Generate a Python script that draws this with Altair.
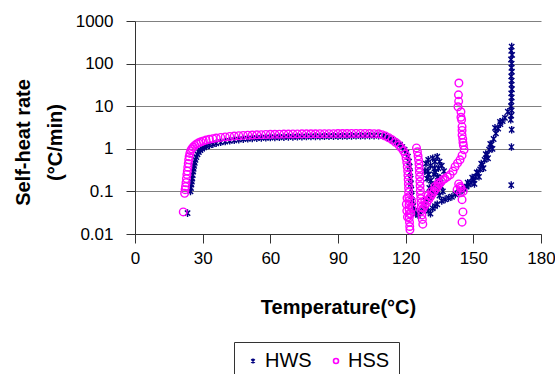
import altair as alt
import pandas as pd

# ---- data ----
hws_t = [23.3, 24.6, 24.8, 25.0, 25.2, 25.4, 25.6, 25.8, 26.0, 26.2, 26.5, 26.8, 27.2, 27.7, 28.3,
         29.0, 29.8, 30.7, 31.7, 33.0, 34.5, 36.0, 38.0, 40.0, 42.0, 44.0, 46.0, 48.0, 50.0, 52, 54,
         56, 58, 60, 62, 64, 66, 68, 70, 72, 74, 76, 78, 80, 82, 84, 86, 88, 90, 92, 94, 96, 98,
         100, 102, 104, 106, 108, 110, 111.5, 113, 114.5, 116, 117.5, 118.5, 119.5, 120.3, 121,
         121.5, 121.8, 122, 122.2, 122.3, 122.5, 122.7, 123, 123.3, 123.8, 124.5, 125.5, 126.5,
         127.5, 128.5,
         128.5, 129, 129.5, 130, 130.5, 131, 131.5, 132, 132.5, 133, 133.5, 134, 134.5, 135, 135.5,
         136, 136.5, 137, 129, 130, 131, 132, 133, 134, 130.5, 132, 134, 135,
         129.8, 131.2, 132.8, 134.2, 135.8, 133.2, 131.8, 130.2,
         136, 137.5, 139, 140.5, 142, 143.5, 145, 146, 147, 148, 149, 150, 151, 152, 153, 154, 155,
         156, 157, 158, 159, 160, 161, 162, 163, 164, 165.3, 159.6, 161.8, 167,
         147.5, 149.5, 151.5, 153.5, 155.5, 157.5, 150.5, 152.5, 154.5, 156.5, 158.5,
         167.0, 166.8, 167.2, 166.7, 167.0, 166.9, 167.1, 166.8, 167.0, 166.9, 167.1, 166.8, 167.0,
         166.9, 166.7, 167.0, 166.8, 166.6, 166.9, 166.8]
hws_r = [0.031, 0.10, 0.12, 0.145, 0.17, 0.20, 0.24, 0.29, 0.34, 0.40, 0.47, 0.55, 0.64, 0.74, 0.84,
         0.93, 1.01, 1.08, 1.15, 1.22, 1.29, 1.35, 1.42, 1.48, 1.54, 1.59, 1.64, 1.68, 1.72, 1.75, 1.78,
         1.80, 1.82, 1.84, 1.86, 1.87, 1.88, 1.90, 1.91, 1.92, 1.93, 1.94, 1.95, 1.96, 1.96, 1.97, 1.98,
         1.98, 1.99, 2.0, 2.0, 2.01, 2.02, 2.02, 2.03, 2.03, 2.04, 2.04, 2.02, 1.9, 1.75, 1.6, 1.42,
         1.25, 1.1, 0.95, 0.8, 0.65, 0.5, 0.38, 0.28, 0.2, 0.15, 0.11, 0.08, 0.06, 0.045, 0.035, 0.03,
         0.028, 0.032, 0.038, 0.045,
         0.3, 0.45, 0.2, 0.55, 0.12, 0.4, 0.08, 0.6, 0.25, 0.5, 0.15, 0.65, 0.35, 0.5, 0.2,
         0.4, 0.1, 0.3, 0.06, 0.035, 0.03, 0.04, 0.045, 0.05, 0.07, 0.09, 0.1, 0.08,
         0.3, 0.18, 0.35, 0.22, 0.13, 0.28, 0.14, 0.25,
         0.06, 0.065, 0.07, 0.075, 0.085, 0.095, 0.105, 0.115, 0.13, 0.145, 0.16, 0.19, 0.22, 0.27,
         0.33, 0.42, 0.55, 0.72, 0.95, 1.25, 1.7, 2.3, 3.0, 3.8, 4.5, 5.3, 7.4, 3.1, 4.3, 2.8,
         0.16, 0.21, 0.28, 0.45, 0.75, 1.3, 0.15, 0.22, 0.35, 0.6, 1.0,
         250, 200, 160, 125, 100, 80, 65, 50, 40, 32, 25, 20, 16, 13, 10, 8, 6, 4.8, 1.1, 0.14]

hss_t = [21.4, 22.0, 22.2, 22.4, 22.6, 22.8, 23.0, 23.2, 23.4, 23.6, 23.8, 24.0, 24.3, 24.7, 25.2,
         25.8, 26.5, 27.3, 28.2, 29.2, 30.3, 31.5, 33, 34.5, 36, 38, 40, 42, 44, 46, 48, 50, 52, 54,
         56, 58, 60, 62, 64, 66, 68, 70, 72, 74, 76, 78, 80, 82, 84, 86, 88, 90, 92, 94, 96, 98, 100,
         102, 104, 106, 108, 109.5, 111, 112.5, 114, 115.5, 117, 118, 119,
         119.8, 120.2, 120.5, 120.7, 120.9, 121.0, 121.1, 121.2, 121.3, 121.3, 121.4, 121.4, 121.5,
         121.5, 121.6, 121.6, 121.7, 121.8, 121.9, 120.3, 120.5, 120.8, 120.6, 122.6, 122.8, 122.3,
         124.8, 125.2, 125.5, 125.7, 125.9, 126.0, 126.1, 126.2, 126.3, 126.4, 126.5, 126.6, 126.7,
         126.8, 126.9, 127.0, 127.2, 127.4, 127.6,
         127.8, 128.6, 129.4, 130.2, 131.0, 131.8, 132.6, 133.4, 134.2, 135.0, 135.8, 136.6, 137.4,
         128.5, 130, 131.5, 133, 134.5,
         138.5, 139.7, 141, 141.9, 143, 144.1, 145, 145.9, 145.4, 145.6, 145.3, 145, 145, 145, 144.8,
         144.5, 144.5, 143.2, 143.5, 143.4, 143.6,
         142.8, 143.5, 144.1, 144.3, 145, 145.4, 145, 144.5, 145.5]
hss_r = [0.033, 0.09, 0.11, 0.13, 0.16, 0.20, 0.25, 0.30, 0.37, 0.45, 0.55, 0.65, 0.78, 0.90, 1.0,
         1.1, 1.2, 1.3, 1.38, 1.46, 1.53, 1.6, 1.67, 1.73, 1.79, 1.85, 1.9, 1.95, 1.99, 2.03, 2.06,
         2.09, 2.11, 2.13, 2.15, 2.17, 2.18, 2.19, 2.2, 2.21, 2.22, 2.23, 2.23, 2.24, 2.24, 2.25, 2.25,
         2.26, 2.26, 2.27, 2.27, 2.28, 2.28, 2.28, 2.29, 2.29, 2.29, 2.29, 2.28, 2.27, 2.24, 2.15, 2.0,
         1.82, 1.62, 1.42, 1.22, 1.05, 0.9,
         0.75, 0.6, 0.48, 0.38, 0.3, 0.24, 0.19, 0.15, 0.12, 0.095, 0.075, 0.06, 0.048, 0.038, 0.03,
         0.024, 0.019, 0.015, 0.0125, 0.05, 0.035, 0.025, 0.07, 0.06, 0.04, 0.03,
         1.05, 0.85, 0.68, 0.55, 0.44, 0.35, 0.28, 0.22, 0.17, 0.135, 0.105, 0.085, 0.068, 0.054,
         0.043, 0.035, 0.028, 0.022, 0.017,
         0.04, 0.047, 0.055, 0.064, 0.075, 0.087, 0.1, 0.115, 0.13, 0.15, 0.17, 0.19, 0.2,
         0.06, 0.08, 0.1, 0.13, 0.16,
         0.22, 0.245, 0.3, 0.38, 0.46, 0.55, 0.7, 0.95, 1.4, 1.2, 1.7, 2.1, 2.7, 3.3, 4.8, 5.5, 7.4,
         9.7, 13, 18.5, 35,
         0.11, 0.15, 0.13, 0.093, 0.064, 0.033, 0.019, 0.12, 0.1]

series_names = ["HWS", "HSS"]
series_colors = ["#000080", "#FF00FF"]
y_ticks = [0.01, 0.1, 1, 10, 100, 1000]
x_ticks = [0, 30, 60, 90, 120, 150, 180]

asterisk = "M-0.7,-0.7L0.7,0.7M-0.7,0.7L0.7,-0.7M0,-1L0,1"

df = pd.concat([
    pd.DataFrame({"T": hws_t, "R": hws_r, "Series": "HWS"}),
    pd.DataFrame({"T": hss_t, "R": hss_r, "Series": "HSS"}),
], ignore_index=True)

FONT = "Liberation Sans"

legend_def = alt.Legend(title=None, orient="none", legendX=99, legendY=321,
                        direction="horizontal", strokeColor="#333",
                        fillColor="white", padding=9, labelFont=FONT,
                        labelFontSize=20, labelColor="black",
                        symbolSize=25, symbolStrokeWidth=1.6,
                        columnPadding=14, labelOffset=2)

chart = alt.Chart(df).mark_point(filled=False, strokeWidth=1.4, opacity=1, size=58).encode(
    x=alt.X("T:Q", scale=alt.Scale(domain=[0, 180], nice=False),
            axis=alt.Axis(values=x_ticks, grid=False, title="Temperature(°C)",
                          titleFont=FONT, titleFontSize=20, titleFontWeight="bold",
                          titleColor="black", titleBaseline="alphabetic",
                          titleX=203, titleY=79,
                          labelFont=FONT, labelFontSize=17, labelColor="black",
                          labelPadding=7, tickSize=9, tickColor="#333",
                          domainColor="#333", labelFlush=False)),
    y=alt.Y("R:Q", scale=alt.Scale(type="log", domain=[0.01, 1000], nice=False),
            axis=alt.Axis(values=y_ticks, format="~g", grid=True, gridColor="#808080",
                          gridWidth=1, title=["Self-heat rate", "(°C/min)"],
                          titleFont=FONT, titleFontSize=20, titleFontWeight="bold",
                          titleColor="black", titleAngle=270, titleBaseline="middle",
                          titleAlign="center", titleLineHeight=32,
                          titleX=-112, titleY=121,
                          labelFont=FONT, labelFontSize=17, labelColor="black",
                          labelPadding=13, tickSize=9, tickColor="#333",
                          domainColor="#333")),
    color=alt.Color("Series:N", scale=alt.Scale(domain=series_names, range=series_colors),
                    legend=legend_def),
    shape=alt.Shape("Series:N", scale=alt.Scale(domain=series_names, range=[asterisk, "circle"]),
                    legend=legend_def),
    order=alt.Order("idx:Q"),
).transform_window(
    idx="row_number()"
).properties(
    width=406, height=213,
    autosize=alt.AutoSizeParams(type="none"),
    padding={"left": 135, "top": 21, "right": 14, "bottom": 140},
).configure(background="white").configure_view(stroke=None).configure_legend(symbolSize=25)

chart.save("out.html", embed_options={"renderer": "svg", "actions": False})
